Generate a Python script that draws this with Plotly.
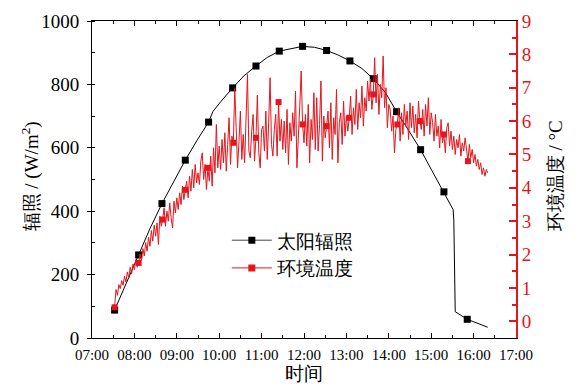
import pandas as pd
import plotly.graph_objects as go

DAY = "2020-01-01 "

# Solar irradiance (W/m2) - black curve
irr_times = ["07:32", "07:49", "08:06", "08:22", "08:39", "08:56", "09:12", "09:29",
             "09:45", "09:51", "10:02", "10:19", "10:35", "10:52", "11:08", "11:25",
             "11:42", "11:58", "12:15", "12:32", "12:48", "13:05", "13:22", "13:38",
             "13:55", "14:11", "14:28", "14:45", "15:01", "15:18", "15:31", "15:32",
             "15:34", "15:51", "16:20"]
irr_vals = [88, 175, 262, 345, 424, 495, 561, 625,
            681, 714, 745, 789, 827, 858, 885, 905,
            912, 920, 917, 907, 893, 874, 850, 818,
            775, 714, 655, 594, 528, 461, 405, 372,
            83, 59, 34]

# Marker times (shared by both series)
marker_times = ["07:32", "08:06", "08:39", "09:12", "09:45", "10:19", "10:52", "11:25",
                "11:58", "12:32", "13:05", "13:38", "14:11", "14:45", "15:18", "15:51"]

# Ambient temperature (°C), one reading every 2 minutes from 07:32
temp_start = "07:32"
temp_vals = [
    0.42, 0.95, 0.78, 1.10, 0.98, 1.22, 1.08, 1.35, 1.18, 1.48, 1.30, 1.62, 1.42, 1.72, 1.55,
    1.85, 1.62, 1.75, 2.02, 1.82, 2.18, 1.96, 2.36, 2.10, 2.52, 2.25, 2.72, 2.40, 2.88, 2.55,
    2.95, 2.30, 3.15, 2.85, 3.05, 3.40, 2.85, 3.30, 3.00, 3.55, 3.10, 2.80, 3.60, 3.25, 3.70,
    3.35, 3.85, 3.50, 4.05, 3.65, 3.94, 4.20, 3.70, 4.35, 3.90, 4.55, 4.00, 4.70, 4.15, 4.45,
    4.10, 4.80, 5.05, 4.25, 4.70, 3.95, 4.60, 4.20, 4.95, 4.05, 5.20, 4.45, 5.90, 4.60, 5.25,
    4.55, 5.45, 4.75, 5.65, 4.50, 5.30, 6.10, 4.70, 5.55, 5.35, 7.00, 5.80, 4.60, 5.40, 6.30,
    4.85, 5.60, 4.75, 5.85, 7.40, 5.10, 4.90, 5.70, 6.20, 4.80, 5.50, 6.78, 5.05, 4.60, 5.75,
    5.85, 5.10, 6.30, 4.85, 5.95, 7.30, 5.30, 4.95, 5.75, 6.20, 4.95, 6.57, 5.40, 6.05, 5.15,
    6.00, 5.05, 6.35, 4.70, 5.95, 5.40, 6.25, 5.55, 6.90, 4.60, 5.85, 6.45, 7.50, 5.90, 5.35,
    6.20, 5.25, 6.50, 4.75, 6.05, 5.45, 6.85, 5.15, 6.70, 5.10, 5.90, 7.20, 4.80, 6.15, 5.50,
    5.85, 6.30, 5.20, 6.55, 4.85, 6.10, 5.60, 6.95, 4.75, 5.95, 6.25, 5.30, 6.60, 5.55, 6.15,
    5.70, 6.10, 6.75, 5.60, 6.40, 5.90, 6.95, 5.75, 6.55, 6.10, 7.05, 5.85, 6.70, 6.30, 7.20,
    6.60, 7.25, 6.35, 6.80, 7.90, 6.55, 7.40, 6.20, 7.10, 6.70, 7.95, 6.40, 7.00, 5.80, 6.50,
    6.35, 5.70, 6.15, 5.05, 5.75, 5.90, 6.40, 5.40, 6.25, 5.60, 6.50, 5.85, 6.30, 5.45, 6.55,
    5.80, 6.45, 5.65, 6.20, 5.50, 6.60, 6.00, 5.75, 6.35, 5.55, 6.50, 5.85, 6.70, 5.60, 6.25,
    5.95, 5.40, 6.20, 5.55, 5.85, 5.20, 6.05, 5.35, 5.60, 5.05, 5.80, 5.95, 5.25, 5.70, 5.15,
    5.55, 5.00, 5.45, 5.20, 5.60, 4.95, 5.35, 5.10, 5.50, 5.05, 4.80, 5.30, 4.90, 5.15, 4.75,
    5.00, 4.65, 4.85, 4.55, 4.75, 4.40, 4.60, 4.35, 4.55, 4.45,
]

x_ticks = ["07:00", "08:00", "09:00", "10:00", "11:00", "12:00",
           "13:00", "14:00", "15:00", "16:00", "17:00"]

# ---- build
irr_t = pd.to_datetime([DAY + t for t in irr_times])
mark_t = pd.to_datetime([DAY + t for t in marker_times])
irr_lookup = dict(zip(irr_times, irr_vals))
irr_mark_vals = [irr_lookup[t] for t in marker_times]

temp_t = pd.date_range(DAY + temp_start, periods=len(temp_vals), freq="2min")
t0 = temp_t[0]
red_idx = [int(round((m - t0).total_seconds() / 120.0)) for m in mark_t]
red_mark_t = [temp_t[i] for i in red_idx]
red_mark_v = [temp_vals[i] for i in red_idx]

BLACK = "#000000"
RED = "#e3161d"
FONT = "Liberation Serif"

fig = go.Figure()
fig.add_trace(go.Scatter(x=irr_t, y=irr_vals, mode="lines",
                         line=dict(color=BLACK, width=1), showlegend=False))
fig.add_trace(go.Scatter(x=mark_t, y=irr_mark_vals, mode="markers",
                         marker=dict(symbol="square", size=7, color=BLACK),
                         showlegend=False))
fig.add_trace(go.Scatter(x=temp_t, y=temp_vals, mode="lines", yaxis="y2",
                         line=dict(color=RED, width=1), showlegend=False))
fig.add_trace(go.Scatter(x=red_mark_t, y=red_mark_v, mode="markers", yaxis="y2",
                         marker=dict(symbol="square", size=6, color=RED),
                         showlegend=False))
# legend entries
fig.add_trace(go.Scatter(x=[None], y=[None], mode="lines+markers", name="太阳辐照",
                         line=dict(color="#444444", width=1),
                         marker=dict(symbol="square", size=7, color=BLACK)))
fig.add_trace(go.Scatter(x=[None], y=[None], mode="lines+markers", name="环境温度",
                         line=dict(color=RED, width=1),
                         marker=dict(symbol="square", size=7, color=RED)))

tickvals = pd.to_datetime([DAY + t for t in x_ticks])

fig.update_layout(
    width=572, height=382,
    margin=dict(l=84, r=64, t=13, b=52, autoexpand=False),
    paper_bgcolor="white", plot_bgcolor="white",
    font=dict(family=FONT, color="black", size=16),
    legend=dict(x=0.318, y=0.368, xanchor="left", yanchor="top",
                bgcolor="rgba(0,0,0,0)", font=dict(size=19, family=FONT),
                itemwidth=40, tracegroupgap=0),
    xaxis=dict(
        type="date", automargin=False,
        range=[tickvals[0], tickvals[-1]],
        tickvals=tickvals, ticktext=x_ticks,
        ticks="inside", ticklen=5, tickwidth=1, tickcolor="black",
        minor=dict(ticks="inside", ticklen=3, dtick=1800000, tickcolor="black"),
        showline=True, linecolor="black", linewidth=1, mirror="ticks",
        showgrid=False, zeroline=False,
        tickfont=dict(size=15, family=FONT), ticklabelstandoff=3,
        title=dict(text="时间", font=dict(size=19, family=FONT), standoff=2),
    ),
    yaxis=dict(
        automargin=False,
        range=[0, 1000], dtick=200,
        ticks="outside", ticklen=4, tickwidth=1, tickcolor="black",
        minor=dict(ticks="inside", ticklen=3, dtick=100, tickcolor="black"),
        showline=True, linecolor="black", linewidth=1,
        showgrid=False, zeroline=False,
        tickfont=dict(size=19, family=FONT), ticklabelstandoff=4,
    ),
    yaxis2=dict(
        automargin=False,
        overlaying="y", side="right",
        range=[-0.5, 9], dtick=1,
        ticks="inside", ticklen=7, tickwidth=2, tickcolor=RED,
        minor=dict(ticks="inside", ticklen=4, dtick=0.5, tickcolor=RED, tickwidth=2),
        showline=True, linecolor=RED, linewidth=2,
        showgrid=False, zeroline=False,
        tickfont=dict(size=19, family=FONT, color=RED),
    ),
    annotations=[
        dict(text="辐照 / (W/m<sup>2</sup>)", textangle=-90, showarrow=False,
             xref="paper", yref="paper", x=-0.146, y=0.51,
             xanchor="center", yanchor="middle",
             font=dict(size=19, family=FONT, color="black")),
        dict(text="环境温度 / °C", textangle=-90, showarrow=False,
             xref="paper", yref="paper", x=1.092, y=0.51,
             xanchor="center", yanchor="middle",
             font=dict(size=19, family=FONT, color="black")),
    ],
)

fig.write_html("out.html")
